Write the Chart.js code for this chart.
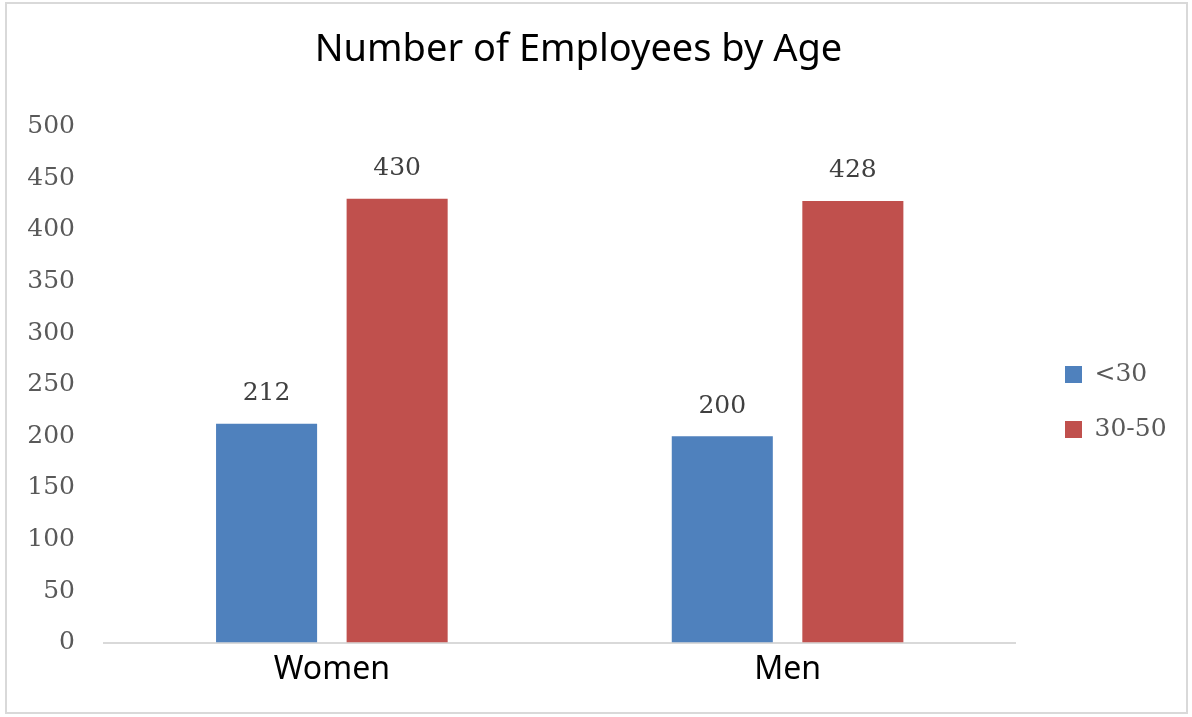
<!DOCTYPE html>
<html>
<head>
<meta charset="utf-8">
<script src="https://cdn.jsdelivr.net/npm/chart.js@4"></script>
<style>
  body { margin: 0; background: #fff; }
  #wrap { position: relative; width: 1192px; height: 717px; }
</style>
</head>
<body>
<div id="wrap"><canvas id="myChart" width="1192" height="717"></canvas></div>
<script>
const categories = ["Women", "Men"];
const under30 = [212, 200];
const from30to50 = [430, 428];
const seriesNames = ["<30", "30-50"];

// frame around the whole chart
const framePlugin = {
    id: 'frame',
    beforeDraw(chart) {
        const ctx = chart.ctx;
        ctx.save();
        ctx.fillStyle = '#fff';
        ctx.fillRect(0, 0, chart.width, chart.height);
        ctx.strokeStyle = '#d9d9d9';
        ctx.lineWidth = 2;
        ctx.strokeRect(6, 3, 1181, 710);
        ctx.restore();
    }
};

// nudge the legend to where the original has it
const legendNudge = {
    id: 'legendNudge',
    afterLayout(chart) {
        const lg = chart.legend;
        const dy = 402 - (lg.top + lg.bottom) / 2;
        lg.top += dy; lg.bottom += dy;
        const dx = 1035 - lg.left;
        lg.left += dx; lg.right += dx;
    }
};

// value labels above each bar
const valueLabels = {
    id: 'valueLabels',
    afterDatasetsDraw(chart) {
        const ctx = chart.ctx;
        ctx.save();
        ctx.font = '25px "DejaVu Serif"';
        ctx.fillStyle = '#404040';
        ctx.textAlign = 'center';
        ctx.textBaseline = 'middle';
        chart.data.datasets.forEach((ds, i) => {
            chart.getDatasetMeta(i).data.forEach((bar, j) => {
                ctx.fillText(ds.data[j], bar.x, bar.y - 30);
            });
        });
        ctx.restore();
    }
};

const ctx = document.getElementById('myChart');
new Chart(ctx, {
    type: 'bar',
    data: {
        labels: categories,
        datasets: [
            { label: seriesNames[0], data: under30, backgroundColor: '#4F81BD' },
            { label: seriesNames[1], data: from30to50, backgroundColor: '#C0504D' }
        ]
    },
    options: {
        responsive: false,
        animation: false,
        categoryPercentage: 0.573,
        barPercentage: 0.774,
        layout: { padding: { top: 27, left: 0, right: 35, bottom: 20 } },
        plugins: {
            tooltip: { enabled: false },
            title: {
                display: true,
                text: 'Number of Employees by Age',
                color: '#000',
                font: { family: 'Noto Sans', size: 38, weight: 'normal' },
                padding: { top: 0, bottom: 54 }
            },
            legend: {
                position: 'right',
                labels: {
                    boxWidth: 17,
                    boxHeight: 17,
                    padding: 30,
                    color: '#595959',
                    font: { family: 'DejaVu Serif', size: 25 }
                }
            }
        },
        scales: {
            x: {
                grid: { display: false, drawTicks: false },
                border: { color: '#d9d9d9', width: 2 },
                ticks: { color: '#000', padding: 8, font: { family: 'Noto Sans', size: 32 } }
            },
            y: {
                min: 0,
                max: 500,
                afterFit(scale) { scale.width = 104; },
                grid: { display: false, drawTicks: false },
                border: { display: false },
                ticks: { stepSize: 50, color: '#595959', padding: 29, font: { family: 'DejaVu Serif', size: 25 } }
            }
        }
    },
    plugins: [framePlugin, legendNudge, valueLabels]
});
</script>
</body>
</html>
